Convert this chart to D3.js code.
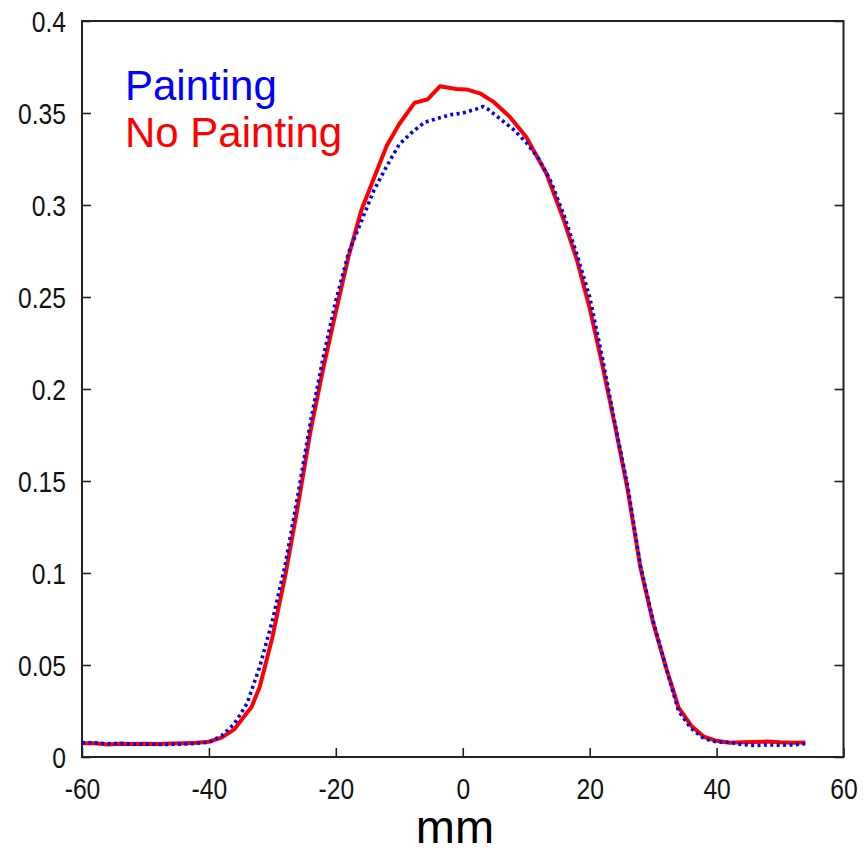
<!DOCTYPE html>
<html>
<head>
<meta charset="utf-8">
<script src="https://cdn.jsdelivr.net/npm/d3@7"></script>
<style>
  html, body { margin: 0; padding: 0; background: #fff; }
  svg { display: block; font-family: "Liberation Sans", Arial, sans-serif; }
</style>
</head>
<body>
<svg id="chart" width="864" height="850"></svg>
<script>
// ---- Data ----
const xTicks = [-60, -40, -20, 0, 20, 40, 60];
const xTickLabels = ["-60", "-40", "-20", "0", "20", "40", "60"];
const yTicks = [0, 0.05, 0.1, 0.15, 0.2, 0.25, 0.3, 0.35, 0.4];
const yTickLabels = ["0", "0.05", "0.1", "0.15", "0.2", "0.25", "0.3", "0.35", "0.4"];
const seriesNames = ["Painting", "No Painting"];
const seriesColors = ["#0000ff", "#ff0000"];

// Painting (blue, dotted)
const paintX = [-60, -58, -56, -54, -52, -50, -48, -46, -44, -42, -40, -38, -36, -34, -32, -30, -28, -26, -24, -22, -20, -18, -16, -14, -12, -10, -8, -6, -4, -2, 0, 2, 3.2, 4, 6, 8, 10, 12, 14, 16, 18, 20, 22, 24, 26, 28, 30, 32, 34, 36, 38, 40, 42, 44, 46, 48, 50, 52, 54];
const paintY = [0.0078, 0.0077, 0.0072, 0.0074, 0.0069, 0.0070, 0.0068, 0.0069, 0.0070, 0.0074, 0.0080, 0.0115, 0.018, 0.029, 0.049, 0.074, 0.104, 0.142, 0.182, 0.217, 0.248, 0.274, 0.291, 0.308, 0.321, 0.333, 0.3395, 0.345, 0.347, 0.349, 0.350, 0.352, 0.3535, 0.352, 0.3465, 0.341, 0.334, 0.325, 0.312, 0.294, 0.273, 0.250, 0.217, 0.181, 0.147, 0.104, 0.074, 0.049, 0.025, 0.0155, 0.0100, 0.0082, 0.0080, 0.0068, 0.0062, 0.0066, 0.0064, 0.0066, 0.0072];

// No Painting (red, solid)
const noPaintX = [-60, -58, -56, -54, -52, -50, -48, -46, -44, -42, -40, -38, -36, -34, -33.3, -32, -30, -28, -26, -24, -22, -20, -18, -16, -14, -12, -10, -7.6, -5.5, -3.6, -1, 0.6, 2.7, 4.8, 7.4, 10, 13.2, 16, 18, 20, 22, 24, 26, 28, 30, 32, 34, 36, 38, 40, 42, 44, 46, 48, 50, 52, 54];
const noPaintY = [0.0075, 0.0075, 0.0068, 0.0072, 0.0070, 0.0072, 0.0071, 0.0073, 0.0075, 0.0078, 0.0083, 0.0105, 0.015, 0.024, 0.027, 0.038, 0.065, 0.098, 0.136, 0.177, 0.211, 0.242, 0.272, 0.297, 0.3145, 0.332, 0.344, 0.3555, 0.3575, 0.3645, 0.363, 0.3628, 0.3607, 0.3562, 0.348, 0.337, 0.317, 0.291, 0.270, 0.244, 0.213, 0.180, 0.145, 0.103, 0.073, 0.049, 0.027, 0.017, 0.011, 0.0088, 0.0078, 0.0080, 0.0082, 0.0084, 0.0080, 0.0078, 0.0079];

// ---- Layout ----
const svg = d3.select("#chart");
const pLeft = 82, pRight = 843.5, pTop = 21, pBottom = 757;
const x = d3.scaleLinear().domain([-60, 60]).range([pLeft, pRight]);
const y = d3.scaleLinear().domain([0, 0.4]).range([pBottom, pTop]);
const tickFont = 29, squeeze = 0.85;

function squeezeText(sel) {
  sel.selectAll("text").each(function () {
    const w = this.getComputedTextLength();
    d3.select(this).attr("textLength", w * squeeze).attr("lengthAdjust", "spacingAndGlyphs");
  });
}

// Left axis
const gL = svg.append("g").attr("transform", `translate(${pLeft},0)`)
  .call(d3.axisLeft(y).tickValues(yTicks).tickFormat((d, i) => yTickLabels[i]).tickSize(-9).tickPadding(16));
// Right axis (mirror ticks)
const gR = svg.append("g").attr("transform", `translate(${pRight},0)`)
  .call(d3.axisRight(y).tickValues(yTicks).tickFormat("").tickSize(-9));
// Bottom axis
const gB = svg.append("g").attr("transform", `translate(0,${pBottom})`)
  .call(d3.axisBottom(x).tickValues(xTicks).tickFormat((d, i) => xTickLabels[i]).tickSize(-9).tickPadding(21));

[gL, gR, gB].forEach(g => {
  g.select(".domain").remove();
  g.selectAll("line").attr("stroke", "#222").attr("stroke-width", 1.6);
  g.selectAll("text").attr("font-size", tickFont).attr("fill", "#111")
    .attr("font-family", "'Liberation Sans', Arial, sans-serif");
});
gL.selectAll("text").attr("dy", "0.36em");
squeezeText(gL); squeezeText(gB);

// Frame
svg.append("rect").attr("x", pLeft).attr("y", pTop)
  .attr("width", pRight - pLeft).attr("height", pBottom - pTop)
  .attr("fill", "none").attr("stroke", "#222").attr("stroke-width", 2);

// Lines
const line = d3.line().x(d => x(d[0])).y(d => y(d[1]));
const noPaint = noPaintX.map((v, i) => [v, noPaintY[i]]);
const paint = paintX.map((v, i) => [v, paintY[i]]);

svg.append("path").datum(noPaint).attr("d", line)
  .attr("fill", "none").attr("stroke", seriesColors[1]).attr("stroke-width", 4)
  .attr("stroke-linejoin", "round");
svg.append("path").datum(paint).attr("d", line)
  .attr("fill", "none").attr("stroke", seriesColors[0]).attr("stroke-width", 3.6)
  .attr("stroke-dasharray", "3,3.4");

// Legend
seriesNames.forEach((name, i) => {
  svg.append("text").attr("x", 125).attr("y", 100 + i * 46.7)
    .attr("font-size", 42).attr("fill", seriesColors[i]).text(name);
});

// X axis title
svg.append("text").attr("x", 455).attr("y", 843).attr("text-anchor", "middle")
  .attr("font-size", 47).attr("fill", "#000").text("mm");
</script>
</body>
</html>
